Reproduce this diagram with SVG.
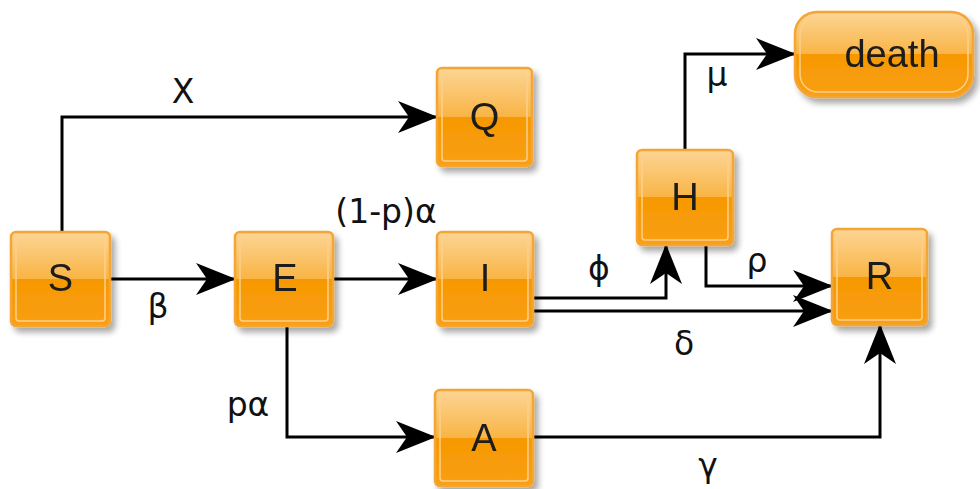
<svg xmlns="http://www.w3.org/2000/svg" width="980" height="489" viewBox="0 0 980 489">
<defs>
<linearGradient id="g" x1="0" y1="0" x2="0" y2="1">
<stop offset="0" stop-color="#fcd595"/>
<stop offset="0.5" stop-color="#f9b445"/>
<stop offset="0.5" stop-color="#f79800"/>
<stop offset="1" stop-color="#f8a015"/>
</linearGradient>
<filter id="sh" x="-20%" y="-20%" width="150%" height="150%">
<feGaussianBlur in="SourceAlpha" stdDeviation="3"/>
<feOffset dx="4" dy="5" result="b"/>
<feComponentTransfer><feFuncA type="linear" slope="0.35"/></feComponentTransfer>
<feMerge><feMergeNode/><feMergeNode in="SourceGraphic"/></feMerge>
</filter>
<marker id="ar" markerUnits="userSpaceOnUse" markerWidth="42" markerHeight="34" refX="39" refY="16" orient="auto">
<path d="M0,0 L40,16 L0,32 L11,16 z" fill="#000"/>
</marker>
</defs>
<style>
.box{fill:url(#g);stroke:#f3a535;stroke-width:2.5}
.inner{fill:none;stroke:#ffd08a;stroke-width:1.5}
.t{font-family:"Liberation Sans",Arial,sans-serif;font-size:38px;fill:#1a1a1a;text-anchor:middle}
.lb{font-family:"DejaVu Sans","Liberation Sans",sans-serif;font-size:33px;fill:#111;text-anchor:middle}
.c{fill:none;stroke:#000;stroke-width:3;marker-end:url(#ar)}
</style>
<rect width="980" height="489" fill="#fff"/>
<g id="connectors">
<path class="c" d="M62,232 V117 H437"/>
<path class="c" d="M110,279 H235"/>
<path class="c" d="M333,279 H437"/>
<path class="c" d="M287,326 V437 H435"/>
<path class="c" d="M533,298 H666 V245"/>
<path class="c" d="M533,311 H832"/>
<path class="c" d="M706,245 V286 H832"/>
<path class="c" d="M685,150 V54 H795"/>
<path class="c" d="M533,437 H880 V325"/>
</g>
<g id="labels">
<text class="lb" x="183" y="103">Χ</text>
<text class="lb" x="158" y="318">β</text>
<text class="lb" x="386" y="223">(1-p)α</text>
<text class="lb" x="599" y="280">ϕ</text>
<text class="lb" x="757" y="272">ρ</text>
<text class="lb" x="684" y="355">δ</text>
<text class="lb" x="717" y="86">μ</text>
<text class="lb" x="248" y="416">pα</text>
<text class="lb" x="708" y="477">γ</text>
</g>
<g id="S" filter="url(#sh)"><rect class="box" x="11" y="232" width="99" height="94" rx="5"/><rect class="inner" x="16" y="237" width="89" height="84" rx="3"/><text class="t" x="60.5" y="291">S</text></g>
<g id="E" filter="url(#sh)"><rect class="box" x="235" y="232" width="98" height="94" rx="5"/><rect class="inner" x="240" y="237" width="88" height="84" rx="3"/><text class="t" x="285" y="291">E</text></g>
<g id="Q" filter="url(#sh)"><rect class="box" x="437" y="68" width="95" height="98" rx="5"/><rect class="inner" x="442" y="73" width="85" height="88" rx="3"/><text class="t" x="484.5" y="130">Q</text></g>
<g id="I" filter="url(#sh)"><rect class="box" x="437" y="232" width="96" height="94" rx="5"/><rect class="inner" x="442" y="237" width="86" height="84" rx="3"/><text class="t" x="485" y="291">I</text></g>
<g id="H" filter="url(#sh)"><rect class="box" x="637" y="150" width="96" height="95" rx="5"/><rect class="inner" x="642" y="155" width="86" height="85" rx="3"/><text class="t" x="685" y="210">H</text></g>
<g id="R" filter="url(#sh)"><rect class="box" x="832" y="229" width="95" height="96" rx="5"/><rect class="inner" x="837" y="234" width="85" height="86" rx="3"/><text class="t" x="879.5" y="289">R</text></g>
<g id="A" filter="url(#sh)"><rect class="box" x="435" y="390" width="98" height="96" rx="5"/><rect class="inner" x="440" y="395" width="88" height="86" rx="3"/><text class="t" x="484" y="451">A</text></g>
<g id="death" filter="url(#sh)"><rect class="box" x="795" y="12" width="178" height="85" rx="22"/><rect class="inner" x="800" y="17" width="168" height="75" rx="18"/><text class="t" x="892" y="67">death</text></g>
</svg>
